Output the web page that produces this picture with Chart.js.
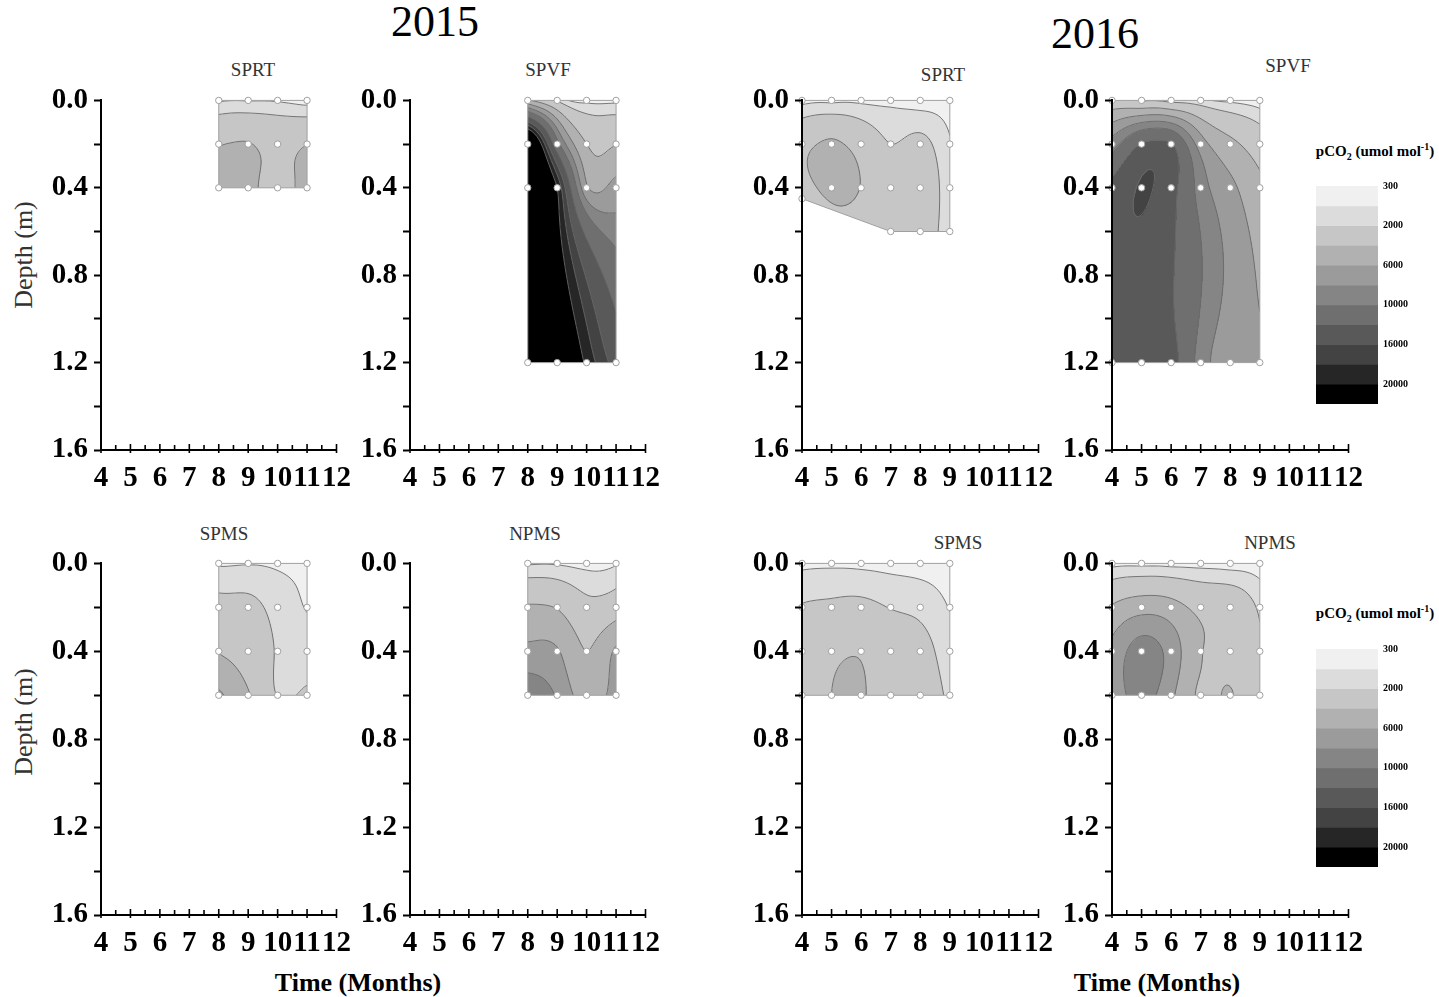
<!DOCTYPE html>
<html>
<head>
<meta charset="utf-8">
<script src="https://cdn.jsdelivr.net/npm/chart.js@4.4.0/dist/chart.umd.min.js"></script>
<style>
  body { margin: 0; background: #fff; width: 1439px; height: 997px; position: relative; overflow: hidden;
         font-family: "Liberation Serif", "Times New Roman", serif; }
  canvas { position: absolute; }
  .t { position: absolute; transform: translate(-50%, -50%); white-space: nowrap; color: #222; }
  .year { font-size: 44px; color: #000; }
  .ptitle { font-size: 19px; color: #333; }
  .xtitle { font-size: 26px; font-weight: bold; color: #000; }
  .ytitle { font-size: 26px; color: #333; transform: translate(-50%, -50%) rotate(-90deg); }
  .cbtitle { font-size: 15px; font-weight: bold; color: #000; }
  sub, sup { font-size: 10px; }
</style>
</head>
<body>
<div class="t year" style="left:435px;top:21px">2015</div>
<div class="t year" style="left:1095px;top:33px">2016</div>

<div class="t ptitle" style="left:253px;top:70px">SPRT</div>
<div class="t ptitle" style="left:548px;top:70px">SPVF</div>
<div class="t ptitle" style="left:943px;top:75px">SPRT</div>
<div class="t ptitle" style="left:1288px;top:66px">SPVF</div>
<div class="t ptitle" style="left:224px;top:534px">SPMS</div>
<div class="t ptitle" style="left:535px;top:534px">NPMS</div>
<div class="t ptitle" style="left:958px;top:543px">SPMS</div>
<div class="t ptitle" style="left:1270px;top:543px">NPMS</div>

<div class="t ytitle" style="left:24px;top:255px">Depth (m)</div>
<div class="t ytitle" style="left:24px;top:722px">Depth (m)</div>
<div class="t xtitle" style="left:358px;top:983px">Time (Months)</div>
<div class="t xtitle" style="left:1157px;top:983px">Time (Months)</div>

<div class="t cbtitle" style="left:1375px;top:151px">pCO<sub>2</sub> (umol mol<sup>-1</sup>)</div>
<div class="t cbtitle" style="left:1375px;top:613px">pCO<sub>2</sub> (umol mol<sup>-1</sup>)</div>

<script>
Chart.defaults.font.family = '"Liberation Serif", "Times New Roman", serif';
Chart.defaults.color = '#000';
Chart.defaults.animation = false;

// pCO2 contour levels (umol mol-1) and band greys
const levels = [300, 1000, 2000, 4000, 6000, 8000, 10000, 13000, 16000, 18000, 20000];
const bandColors = ['#f0f0f0', '#dcdcdc', '#c6c6c6', '#b1b1b1', '#9b9b9b', '#858585',
                    '#6f6f6f', '#595959', '#434343', '#262626', '#000000'];
const colorbarLabels = ['300', '', '2000', '', '6000', '', '10000', '', '16000', '', '20000'];

// 2015 SPRT
const sprt15Months = [8, 9, 10, 11];
const sprt15Depths = [0, 0.2, 0.4];
const sprt15Pco2 = [
  [900, 950, 900, 600],
  [3900, 4100, 3500, 3950],
  [4500, 4400, 3300, 4600]
];
// 2015 SPVF
const spvf15Months = [8, 9, 10, 11];
const spvf15Depths = [0, 0.2, 0.4, 1.2];
const spvf15Pco2 = [
  [4500, 1800, 700, 700],
  [27000, 11000, 4000, 3950],
  [28000, 20000, 6300, 6800],
  [29000, 25000, 19500, 15000]
];
// 2016 SPRT
const sprt16Months = [4, 5, 6, 7, 8, 9];
const sprt16Depths = [0, 0.2, 0.4, 0.45, 0.6];
const sprt16Pco2 = [
  [700, 800, 800, 750, 550, 400],
  [3500, 4300, 3300, 2000, 2400, 1100],
  [null, 4300, 3950, 2800, 2700, 1500],
  [3300, null, null, null, null, null],
  [null, null, null, 2600, 2600, 1500]
];
// 2016 SPVF
const spvf16Months = [4, 5, 6, 7, 8, 9];
const spvf16Depths = [0, 0.2, 0.4, 1.2];
const spvf16Pco2 = [
  [2500, 1900, 1500, 1200, 800, 400],
  [9000, 13200, 13200, 7000, 4500, 3000],
  [13800, 16200, 14000, 9000, 6500, 4500],
  [13100, 14000, 14000, 9000, 7000, 6500]
];
// 2015 SPMS
const spms15Months = [8, 9, 10, 11];
const spms15Depths = [0, 0.2, 0.4, 0.6];
const spms15Pco2 = [
  [900, 950, 850, 700],
  [2500, 2400, 1600, 950],
  [3900, 3000, 1900, 1500],
  [6300, 4200, 1950, 2200]
];
// 2015 NPMS
const npms15Months = [8, 9, 10, 11];
const npms15Depths = [0, 0.2, 0.4, 0.6];
const npms15Pco2 = [
  [900, 900, 700, 900],
  [4200, 3900, 2500, 3000],
  [6500, 6200, 4000, 6300],
  [9500, 7800, 5000, 6800]
];
// 2016 SPMS
const spms16Months = [4, 5, 6, 7, 8, 9];
const spms16Depths = [0, 0.2, 0.4, 0.6];
const spms16Pco2 = [
  [800, 850, 800, 700, 600, 400],
  [2100, 2300, 2400, 1950, 1700, 950],
  [2800, 3600, 3850, 2900, 2500, 1400],
  [2900, 4000, 4150, 3000, 2700, 1800]
];
// 2016 NPMS
const npms16Months = [4, 5, 6, 7, 8, 9];
const npms16Depths = [0, 0.2, 0.4, 0.6];
const npms16Pco2 = [
  [700, 750, 700, 650, 550, 350],
  [4200, 5200, 4800, 3500, 3200, 1800],
  [6500, 9000, 7200, 4100, 3600, 2100],
  [6800, 8700, 6400, 3700, 4100, 2200]
];

// plot area of every panel (pixels on the page)
const panels = [
  { months: sprt15Months, depths: sprt15Depths, pco2: sprt15Pco2, left: 101, top: 97, width: 236, height: 353 },
  { months: spvf15Months, depths: spvf15Depths, pco2: spvf15Pco2, left: 410, top: 97, width: 236, height: 353 },
  { months: sprt16Months, depths: sprt16Depths, pco2: sprt16Pco2, left: 802, top: 97, width: 237, height: 353 },
  { months: spvf16Months, depths: spvf16Depths, pco2: spvf16Pco2, left: 1112, top: 97, width: 237, height: 353 },
  { months: spms15Months, depths: spms15Depths, pco2: spms15Pco2, left: 101, top: 560, width: 236, height: 355 },
  { months: npms15Months, depths: npms15Depths, pco2: npms15Pco2, left: 410, top: 560, width: 236, height: 355 },
  { months: spms16Months, depths: spms16Depths, pco2: spms16Pco2, left: 802, top: 560, width: 237, height: 355 },
  { months: npms16Months, depths: npms16Depths, pco2: npms16Pco2, left: 1112, top: 560, width: 237, height: 355 }
];

const DEPTH_SCALE = 5; // 0.2 m of depth weighs like one month in the interpolation

function hexToRgb(h) {
  return [parseInt(h.slice(1, 3), 16), parseInt(h.slice(3, 5), 16), parseInt(h.slice(5, 7), 16)];
}
const bandRgb = bandColors.map(hexToRgb);

function bandOf(v) {
  let k = 0;
  while (k < levels.length - 1 && v >= levels[k + 1]) k++;
  return k;
}

function phi(r) { return r > 0 ? r * r * Math.log(r) : 0; }

// thin plate spline through the sampled points, used as the contouring surface
function fitTPS(samples) {
  const n = samples.length, N = n + 3;
  const M = [];
  for (let i = 0; i < N; i++) M.push(new Float64Array(N + 1));
  for (let i = 0; i < n; i++) {
    const [ui, vi, fi] = samples[i];
    for (let j = 0; j < n; j++) M[i][j] = phi(Math.hypot(ui - samples[j][0], vi - samples[j][1]));
    M[i][n] = 1; M[i][n + 1] = ui; M[i][n + 2] = vi; M[i][N] = fi;
    M[n][i] = 1; M[n + 1][i] = ui; M[n + 2][i] = vi;
  }
  for (let c = 0; c < N; c++) {
    let p = c;
    for (let r = c + 1; r < N; r++) if (Math.abs(M[r][c]) > Math.abs(M[p][c])) p = r;
    const tmp = M[c]; M[c] = M[p]; M[p] = tmp;
    for (let r = 0; r < N; r++) {
      if (r === c) continue;
      const f = M[r][c] / M[c][c];
      if (f) for (let k = c; k <= N; k++) M[r][k] -= f * M[c][k];
    }
  }
  const w = M.map((row, i) => row[N] / row[i]);
  return (u, v) => {
    let s = w[n] + w[n + 1] * u + w[n + 2] * v;
    for (let i = 0; i < n; i++) s += w[i] * phi(Math.hypot(u - samples[i][0], v - samples[i][1]));
    return s;
  };
}

function convexHull(points) {
  const p = points.slice().sort((a, b) => a[0] - b[0] || a[1] - b[1]);
  const cross = (o, a, b) => (a[0] - o[0]) * (b[1] - o[1]) - (a[1] - o[1]) * (b[0] - o[0]);
  const lower = [], upper = [];
  for (const q of p) {
    while (lower.length >= 2 && cross(lower[lower.length - 2], lower[lower.length - 1], q) <= 0) lower.pop();
    lower.push(q);
  }
  for (let i = p.length - 1; i >= 0; i--) {
    const q = p[i];
    while (upper.length >= 2 && cross(upper[upper.length - 2], upper[upper.length - 1], q) <= 0) upper.pop();
    upper.push(q);
  }
  upper.pop(); lower.pop();
  return lower.concat(upper);
}

// filled contours + contour lines, drawn under the points
const contourPlugin = {
  id: 'contour',
  beforeDatasetsDraw(chart) {
    const ctx = chart.ctx, xs = chart.scales.x, ys = chart.scales.y;
    const pts = chart.data.datasets[0].data;
    const surf = fitTPS(pts.map(p => [p.x, p.y * DEPTH_SCALE, p.v]));
    const hull = convexHull(pts.map(p => [xs.getPixelForValue(p.x), ys.getPixelForValue(p.y)]));
    const x0 = Math.floor(Math.min(...hull.map(h => h[0])));
    const x1 = Math.ceil(Math.max(...hull.map(h => h[0])));
    const y0 = Math.floor(Math.min(...hull.map(h => h[1])));
    const y1 = Math.ceil(Math.max(...hull.map(h => h[1])));
    const W = x1 - x0 + 1, H = y1 - y0 + 1;
    const grid = new Float64Array(W * H);
    for (let j = 0; j < H; j++) {
      const d = ys.getValueForPixel(y0 + j) * DEPTH_SCALE;
      for (let i = 0; i < W; i++) grid[j * W + i] = surf(xs.getValueForPixel(x0 + i), d);
    }
    const off = document.createElement('canvas');
    off.width = W; off.height = H;
    const octx = off.getContext('2d');
    const img = octx.createImageData(W, H);
    for (let k = 0; k < W * H; k++) {
      const c = bandRgb[bandOf(grid[k])];
      img.data[4 * k] = c[0]; img.data[4 * k + 1] = c[1]; img.data[4 * k + 2] = c[2]; img.data[4 * k + 3] = 255;
    }
    octx.putImageData(img, 0, 0);

    ctx.save();
    ctx.beginPath();
    hull.forEach((h, i) => i ? ctx.lineTo(h[0], h[1]) : ctx.moveTo(h[0], h[1]));
    ctx.closePath();
    ctx.clip();
    ctx.drawImage(off, x0, y0);

    // marching squares for the contour lines
    const S = 2;
    const g = (i, j) => grid[j * W + i];
    ctx.strokeStyle = '#6a6a6a';
    ctx.lineWidth = 0.9;
    for (let L = 1; L < levels.length; L++) {
      const lv = levels[L];
      ctx.beginPath();
      for (let j = 0; j + S < H; j += S) {
        for (let i = 0; i + S < W; i += S) {
          const a = g(i, j), b = g(i + S, j), c = g(i + S, j + S), d = g(i, j + S);
          const e = [];
          if ((a < lv) !== (b < lv)) e.push([x0 + i + S * (lv - a) / (b - a), y0 + j]);
          if ((b < lv) !== (c < lv)) e.push([x0 + i + S, y0 + j + S * (lv - b) / (c - b)]);
          if ((d < lv) !== (c < lv)) e.push([x0 + i + S * (lv - d) / (c - d), y0 + j + S]);
          if ((a < lv) !== (d < lv)) e.push([x0 + i, y0 + j + S * (lv - a) / (d - a)]);
          for (let q = 0; q + 1 < e.length; q += 2) {
            ctx.moveTo(e[q][0], e[q][1]);
            ctx.lineTo(e[q + 1][0], e[q + 1][1]);
          }
        }
      }
      ctx.stroke();
    }
    ctx.restore();

    ctx.save();
    ctx.strokeStyle = '#a0a0a0';
    ctx.lineWidth = 1;
    ctx.beginPath();
    hull.forEach((h, i) => i ? ctx.lineTo(h[0], h[1]) : ctx.moveTo(h[0], h[1]));
    ctx.closePath();
    ctx.stroke();
    ctx.restore();
  }
};

// small inward ticks on the month axis every half month
const monthTickPlugin = {
  id: 'monthTicks',
  afterDraw(chart) {
    const ctx = chart.ctx, xs = chart.scales.x, yb = chart.chartArea.bottom;
    ctx.save();
    ctx.strokeStyle = '#000';
    ctx.lineWidth = 1.6;
    for (let m = xs.min; m <= xs.max + 1e-9; m += 0.5) {
      const px = xs.getPixelForValue(m);
      const major = Math.abs(m - Math.round(m)) < 1e-9;
      ctx.beginPath();
      ctx.moveTo(px, yb + (major ? 3 : 0));
      ctx.lineTo(px, yb - (major ? 6 : 5));
      ctx.stroke();
    }
    ctx.restore();
  }
};

const AXIS_W = 75, AXIS_H = 45, PAD_T = 20, PAD_R = 25;
const tickFont = { size: 29, weight: 'bold' };

panels.forEach(p => {
  const cv = document.createElement('canvas');
  const cw = p.width + AXIS_W + PAD_R, ch = p.height + PAD_T + AXIS_H;
  cv.width = cw; cv.height = ch;
  cv.style.left = (p.left - AXIS_W) + 'px';
  cv.style.top = (p.top - PAD_T) + 'px';
  cv.style.width = cw + 'px'; cv.style.height = ch + 'px';
  document.body.appendChild(cv);

  const pts = [];
  p.depths.forEach((d, r) => p.months.forEach((m, c) => {
    const v = p.pco2[r][c];
    if (v !== null) pts.push({ x: m, y: d, v: v });
  }));

  new Chart(cv, {
    type: 'scatter',
    data: {
      datasets: [{
        data: pts,
        pointRadius: 3.2,
        pointBackgroundColor: '#ffffff',
        pointBorderColor: '#a0a0a0',
        pointBorderWidth: 1,
        clip: false
      }]
    },
    options: {
      responsive: false,
      animation: false,
      layout: { padding: { left: 0, top: PAD_T, right: PAD_R, bottom: 0 } },
      plugins: { legend: { display: false }, tooltip: { enabled: false } },
      scales: {
        x: {
          type: 'linear', min: 4, max: 12,
          afterFit: s => { s.height = AXIS_H; },
          grid: { display: false, drawTicks: false },
          border: { display: true, color: '#000', width: 2, z: 1 },
          ticks: { stepSize: 1, autoSkip: false, maxRotation: 0, padding: 11, font: tickFont,
                   callback: v => String(v) }
        },
        y: {
          type: 'linear', min: 0, max: 1.6, reverse: true,
          afterFit: s => { s.width = AXIS_W; },
          grid: { drawOnChartArea: false, drawTicks: true, tickLength: 7, tickWidth: 2,
                  tickColor: '#000', z: 1 },
          border: { display: true, color: '#000', width: 2, z: 1 },
          ticks: { stepSize: 0.2, autoSkip: false, padding: 6, font: tickFont,
                   callback: (v, i) => i % 2 === 0 ? v.toFixed(1) : '' }
        }
      }
    },
    plugins: [contourPlugin, monthTickPlugin]
  });
});

// colour bars
[185, 648].forEach(top => {
  const cv = document.createElement('canvas');
  const cw = 62 + 50, ch = 220 + 20;
  cv.width = cw; cv.height = ch;
  cv.style.left = '1316px';
  cv.style.top = (top - 10) + 'px';
  cv.style.width = cw + 'px'; cv.style.height = ch + 'px';
  document.body.appendChild(cv);
  new Chart(cv, {
    type: 'bar',
    data: {
      labels: [''],
      datasets: bandColors.map(c => ({ data: [1], backgroundColor: c, borderWidth: 0,
                                       barPercentage: 1, categoryPercentage: 1 }))
    },
    options: {
      responsive: false,
      animation: false,
      layout: { padding: { left: 0, right: 0, top: 10, bottom: 10 } },
      plugins: { legend: { display: false }, tooltip: { enabled: false } },
      scales: {
        x: { stacked: true, display: false },
        y: {
          stacked: true, min: 0, max: bandColors.length, reverse: true, position: 'right',
          afterFit: s => { s.width = 50; },
          grid: { display: false, drawTicks: false },
          border: { display: false },
          ticks: { stepSize: 1, autoSkip: false, padding: 5, font: { size: 10, weight: 'bold' },
                   callback: v => colorbarLabels[v] || '' }
        }
      }
    }
  });
});
</script>
</body>
</html>
